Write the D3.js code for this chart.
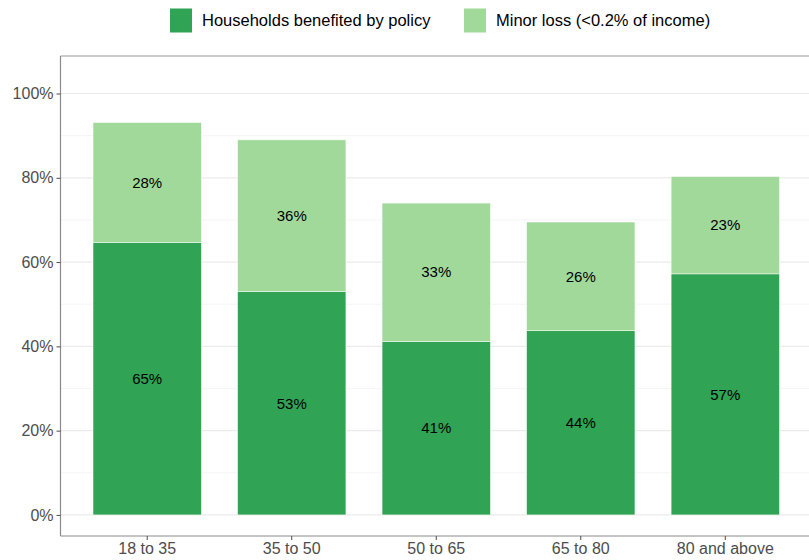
<!DOCTYPE html>
<html>
<head>
<meta charset="utf-8">
<script src="https://cdn.jsdelivr.net/npm/d3@7"></script>
<style>
  body { margin: 0; background: #fff; }
  svg { display: block; font-family: "Liberation Sans", Arial, sans-serif; }
</style>
</head>
<body>
<svg id="chart" width="809" height="560"></svg>
<script>
const categories = ["18 to 35", "35 to 50", "50 to 65", "65 to 80", "80 and above"];
const benefited = [64.7, 53.0, 41.2, 43.7, 57.2];
const minorLoss = [28.4, 36.0, 32.8, 25.8, 23.1];
const seriesNames = ["Households benefited by policy", "Minor loss (<0.2% of income)"];
const seriesColors = ["#31a354", "#a1d99b"];
const yTicks = [0, 20, 40, 60, 80, 100];
const yMinor = [10, 30, 50, 70, 90];

const svg = d3.select("#chart");
const W = 809, H = 560;
const panel = { left: 60.5, right: 812, top: 56, bottom: 536 };

const x = d3.scaleBand()
  .domain(categories)
  .range([panel.left, panel.right])
  .paddingInner(0.25)
  .paddingOuter(0.225);

const y = d3.scaleLinear().domain([-5.0, 108.9]).range([panel.bottom, panel.top]);

// grid
const g = svg.append("g");
g.selectAll(".minor").data(yMinor).join("line")
  .attr("x1", panel.left).attr("x2", panel.right)
  .attr("y1", d => y(d)).attr("y2", d => y(d))
  .attr("stroke", "#f2f2f2").attr("stroke-width", 0.8);
g.selectAll(".major").data(yTicks).join("line")
  .attr("x1", panel.left).attr("x2", panel.right)
  .attr("y1", d => y(d)).attr("y2", d => y(d))
  .attr("stroke", "#ebebeb").attr("stroke-width", 1.2);

// stacked data
const rows = categories.map((c, i) => ({ cat: c, b: benefited[i], m: minorLoss[i] }));
const stack = d3.stack().keys(["b", "m"])(rows);

stack.forEach((layer, li) => {
  svg.append("g").selectAll("rect").data(layer).join("rect")
    .attr("x", d => x(d.data.cat))
    .attr("width", x.bandwidth())
    .attr("y", d => y(d[1]))
    .attr("height", d => y(d[0]) - y(d[1]))
    .attr("fill", seriesColors[li])
    .attr("stroke", "#ffffff").attr("stroke-width", 0.5);
  svg.append("g").selectAll("text").data(layer).join("text")
    .attr("x", d => x(d.data.cat) + x.bandwidth() / 2)
    .attr("y", d => y((d[0] + d[1]) / 2))
    .attr("dy", "0.35em")
    .attr("text-anchor", "middle")
    .attr("font-size", 15)
    .attr("fill", "#000")
    .text(d => Math.round(d[1] - d[0]) + "%");
});

// panel border (top)
svg.append("line")
  .attr("x1", panel.left).attr("x2", panel.right)
  .attr("y1", panel.top).attr("y2", panel.top)
  .attr("stroke", "#9a9a9a").attr("stroke-width", 1.2);

// axes
const yAxis = d3.axisLeft(y).tickValues(yTicks).tickFormat(d => d + "%").tickSize(4).tickPadding(3);
const ya = svg.append("g").attr("transform", `translate(${panel.left},0)`).call(yAxis);
ya.select(".domain").attr("d", `M0,${panel.top}V${panel.bottom}`).attr("stroke", "#8a8a8a").attr("stroke-width", 1.2);
ya.selectAll(".tick line").attr("stroke", "#4d4d4d");
ya.selectAll(".tick text").attr("font-size", 16).attr("fill", "#4d4d4d").attr("font-family", "Liberation Sans, Arial, sans-serif");

const xAxis = d3.axisBottom(x).tickSize(4).tickPadding(3);
const xa = svg.append("g").attr("transform", `translate(0,${panel.bottom})`).call(xAxis);
xa.select(".domain").attr("d", `M${panel.left},0H${panel.right}`).attr("stroke", "#8a8a8a").attr("stroke-width", 1.2);
xa.selectAll(".tick line").attr("stroke", "#4d4d4d");
xa.selectAll(".tick text").attr("font-size", 16).attr("fill", "#4d4d4d").attr("font-family", "Liberation Sans, Arial, sans-serif");

// legend
const legendX = [170, 464];
const leg = svg.append("g");
seriesNames.forEach((name, i) => {
  leg.append("rect").attr("x", legendX[i]).attr("y", 8.5).attr("width", 22).attr("height", 24)
    .attr("fill", seriesColors[i]);
  leg.append("text").attr("x", legendX[i] + 32).attr("y", 20.5).attr("dy", "0.35em")
    .attr("font-size", 16.5).attr("fill", "#000").text(name);
});
</script>
</body>
</html>
